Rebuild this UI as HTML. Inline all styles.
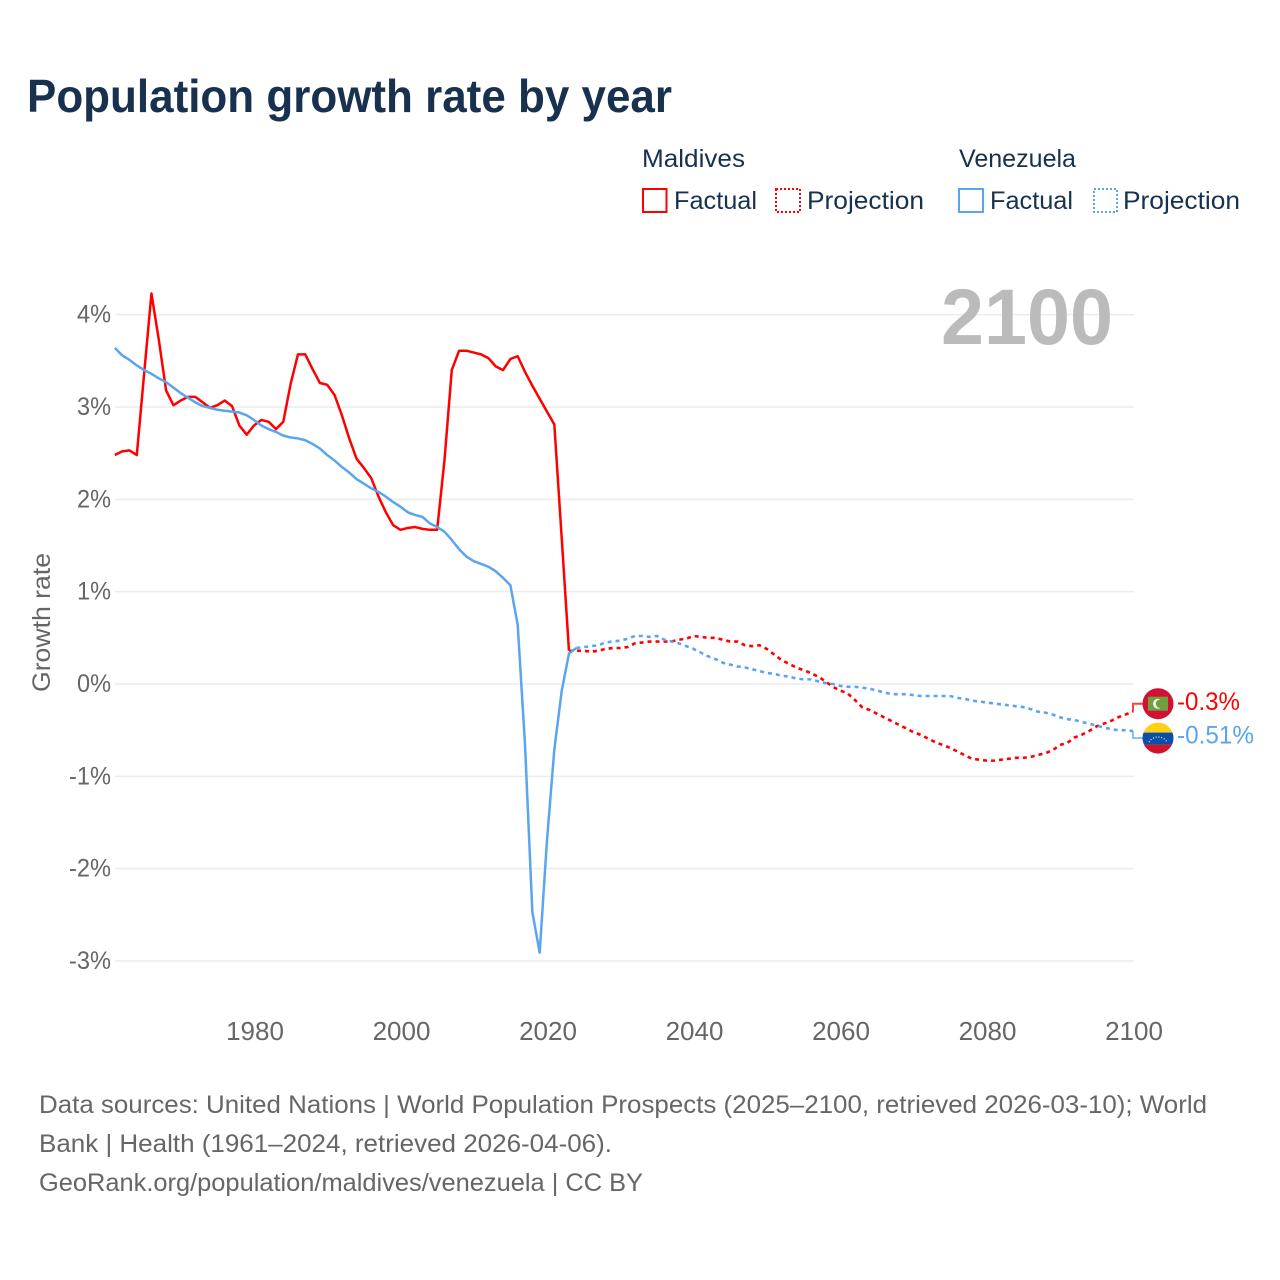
<!DOCTYPE html>
<html lang="en">
<head>
<meta charset="utf-8">
<title>Population growth rate by year</title>
<style>
html,body{margin:0;padding:0;background:#fff;}
svg{display:block;font-family:"Liberation Sans",sans-serif;}
</style>
</head>
<body>
<svg id="chart" xmlns="http://www.w3.org/2000/svg" width="1280" height="1280" viewBox="0 0 1280 1280">
  <rect x="0" y="0" width="1280" height="1280" fill="#ffffff"/>
  <text x="27" y="112" font-size="46" font-weight="700" fill="#17314f" textLength="645" lengthAdjust="spacingAndGlyphs">Population growth rate by year</text>

  <g font-size="25" fill="#17314f">
    <text x="642" y="167" textLength="103" lengthAdjust="spacingAndGlyphs">Maldives</text>
    <rect x="643" y="189" width="23.500" height="23" fill="none" stroke="#ff0000" stroke-width="2"/>
    <text x="674" y="209" textLength="83" lengthAdjust="spacingAndGlyphs">Factual</text>
    <rect x="776" y="189" width="24" height="23" fill="none" stroke="#ff0000" stroke-width="2" stroke-dasharray="2 2"/>
    <text x="807" y="209" textLength="117" lengthAdjust="spacingAndGlyphs">Projection</text>

    <text x="959" y="167" textLength="117" lengthAdjust="spacingAndGlyphs">Venezuela</text>
    <rect x="959" y="189" width="24" height="23" fill="none" stroke="#5aa5ee" stroke-width="2"/>
    <text x="990" y="209" textLength="83" lengthAdjust="spacingAndGlyphs">Factual</text>
    <rect x="1094" y="189" width="23" height="23" fill="none" stroke="#5aa5ee" stroke-width="2" stroke-dasharray="2 2"/>
    <text x="1123" y="209" textLength="117" lengthAdjust="spacingAndGlyphs">Projection</text>
  </g>

  <g id="grid"></g>
  <g id="yticks"></g>
  <g id="xticks"></g>
  <text transform="translate(50,692) rotate(-90)" font-size="25" fill="#666666" textLength="139" lengthAdjust="spacingAndGlyphs">Growth rate</text>
  <text x="941" y="344" font-size="79" font-weight="700" fill="#bbbbbb" textLength="172" lengthAdjust="spacingAndGlyphs">2100</text>

  <g id="series"></g>

  <defs>
    <clipPath id="flag-clip"><circle cx="0" cy="0" r="15.500"/></clipPath>
  </defs>
  <g id="flag-maldives">
    <g clip-path="url(#flag-clip)">
      <rect x="-16" y="-16" width="32" height="32" fill="#d21034"/>
      <rect x="-10" y="-7" width="20" height="14" fill="#6f9f3f"/>
      <circle cx="0" cy="0" r="5" fill="#f0f3e8"/>
      <circle cx="2.200" cy="0" r="4.300" fill="#6f9f3f"/>
    </g>
  </g>
  <g id="flag-venezuela">
    <g clip-path="url(#flag-clip)">
      <rect x="-16" y="-16" width="32" height="10.500" fill="#fcd116"/>
      <rect x="-16" y="-5.500" width="32" height="12" fill="#0a50a8"/>
      <rect x="-16" y="6.500" width="32" height="10" fill="#cf142b"/>
      <path d="M-9 4 A10 9 0 0 1 9 4" fill="none" stroke="#ffffff" stroke-width="1.100" stroke-dasharray="1 1.800"/>
    </g>
  </g>
  <text id="label-maldives" x="1177" font-size="25" fill="#ff0000" textLength="63" lengthAdjust="spacingAndGlyphs"></text>
  <text id="label-venezuela" x="1177" font-size="25" fill="#5aa5ee" textLength="77" lengthAdjust="spacingAndGlyphs"></text>

  <g font-size="25" fill="#666666">
    <text x="39" y="1113" textLength="1168" lengthAdjust="spacingAndGlyphs">Data sources: United Nations | World Population Prospects (2025–2100, retrieved 2026-03-10); World</text>
    <text x="39" y="1152" textLength="573" lengthAdjust="spacingAndGlyphs">Bank | Health (1961–2024, retrieved 2026-04-06).</text>
    <text x="39" y="1191" textLength="604" lengthAdjust="spacingAndGlyphs">GeoRank.org/population/maldives/venezuela | CC BY</text>
  </g>
</svg>

<script>
const factualStartYear = 1961;
const maldivesFactual = [2.48,2.52,2.53,2.48,3.36,4.23,3.73,3.18,3.02,3.07,3.11,3.11,3.05,2.99,3.02,3.07,3.01,2.80,2.70,2.80,2.86,2.84,2.76,2.84,3.25,3.57,3.57,3.41,3.26,3.24,3.13,2.91,2.66,2.44,2.34,2.23,2.03,1.86,1.72,1.67,1.69,1.70,1.68,1.67,1.67,2.42,3.40,3.61,3.61,3.59,3.57,3.53,3.44,3.40,3.52,3.55,3.38,3.23,3.09,2.95,2.81,1.59,0.36];
const venezuelaFactual = [3.64,3.56,3.51,3.45,3.40,3.36,3.31,3.27,3.21,3.15,3.10,3.05,3.01,2.99,2.97,2.96,2.95,2.94,2.91,2.86,2.80,2.76,2.73,2.69,2.67,2.66,2.64,2.60,2.55,2.48,2.42,2.35,2.29,2.22,2.17,2.12,2.08,2.03,1.97,1.92,1.86,1.83,1.81,1.74,1.70,1.65,1.56,1.46,1.38,1.33,1.30,1.27,1.22,1.15,1.07,0.64,-0.66,-2.47,-2.91,-1.69,-0.71,-0.08,0.33,0.39];
const maldivesProjectionStartYear = 2023;
const maldivesProjection = [0.36,0.36,0.36,0.35,0.36,0.38,0.39,0.39,0.40,0.44,0.45,0.46,0.46,0.46,0.46,0.48,0.49,0.52,0.51,0.50,0.50,0.48,0.46,0.46,0.42,0.41,0.42,0.38,0.32,0.26,0.22,0.18,0.15,0.12,0.08,0.03,-0.03,-0.07,-0.10,-0.17,-0.25,-0.28,-0.32,-0.36,-0.40,-0.44,-0.48,-0.52,-0.55,-0.59,-0.63,-0.66,-0.69,-0.73,-0.77,-0.81,-0.82,-0.83,-0.83,-0.82,-0.81,-0.80,-0.80,-0.79,-0.77,-0.75,-0.72,-0.66,-0.64,-0.58,-0.55,-0.51,-0.46,-0.43,-0.40,-0.36,-0.33,-0.30];
const venezuelaProjectionStartYear = 2024;
const venezuelaProjection = [0.39,0.40,0.41,0.42,0.45,0.46,0.47,0.49,0.52,0.52,0.51,0.52,0.48,0.46,0.44,0.41,0.38,0.34,0.30,0.27,0.23,0.21,0.19,0.18,0.16,0.14,0.12,0.11,0.09,0.08,0.06,0.05,0.05,0.03,0.01,0,-0.02,-0.03,-0.03,-0.04,-0.05,-0.07,-0.09,-0.11,-0.11,-0.11,-0.12,-0.13,-0.13,-0.13,-0.13,-0.13,-0.15,-0.16,-0.18,-0.19,-0.20,-0.21,-0.22,-0.23,-0.24,-0.25,-0.27,-0.30,-0.31,-0.33,-0.36,-0.38,-0.39,-0.41,-0.43,-0.45,-0.47,-0.49,-0.50,-0.50,-0.51];
const xTickYears = [1980,2000,2020,2040,2060,2080,2100];
const yTickValues = [4,3,2,1,0,-1,-2,-3];

const SVG_NS = 'http://www.w3.org/2000/svg';
function xTickScale(year){ return 255 + (year - 1980) * 7.325; }
function xScale(year){ return xTickScale(year) - 1; }
function yScale(value){ return 684 - value * 92.33; }
function make(tag, attrs, parent){
  const el = document.createElementNS(SVG_NS, tag);
  for (const k in attrs) el.setAttribute(k, attrs[k]);
  parent.appendChild(el);
  return el;
}
function pathFor(values, startYear){
  return values.map(function(v, i){
    return (i ? 'L' : 'M') + xScale(startYear + i).toFixed(2) + ' ' + yScale(v).toFixed(2);
  }).join(' ');
}

const gridGroup = document.getElementById('grid');
const yTickGroup = document.getElementById('yticks');
yTickValues.forEach(function(v){
  const line = make('line', {x1: 115, x2: xTickScale(2100), y1: yScale(v), y2: yScale(v), stroke: '#ececec', 'stroke-width': 1.5}, gridGroup);
  
  
  const text = v + '%';
  const label = make('text', {x: 111, y: yScale(v) + 8, 'text-anchor': 'end', 'font-size': 25, fill: '#666666', textLength: 18 + 8 * text.length, lengthAdjust: 'spacingAndGlyphs'}, yTickGroup);
  
  
  label.textContent = text;
});

const xTickGroup = document.getElementById('xticks');
xTickYears.forEach(function(year){
  const label = make('text', {x: xTickScale(year), y: 1040, 'text-anchor': 'middle', 'font-size': 26, fill: '#666666'}, xTickGroup);
  
  
  label.textContent = year;
});

const seriesGroup = document.getElementById('series');
const RED = '#ff0000';
const BLUE = '#5aa5ee';

const maldivesLine = make('path', {d: pathFor(maldivesFactual, factualStartYear), fill: 'none', stroke: RED, 'stroke-width': 2.5, 'stroke-linejoin': 'round'}, seriesGroup);



const maldivesDash = make('path', {d: pathFor(maldivesProjection, maldivesProjectionStartYear), fill: 'none', stroke: RED, 'stroke-width': 2.6, 'stroke-dasharray': '4 4'}, seriesGroup);



const venezuelaLine = make('path', {d: pathFor(venezuelaFactual, factualStartYear), fill: 'none', stroke: BLUE, 'stroke-width': 2.5, 'stroke-linejoin': 'round'}, seriesGroup);



const venezuelaDash = make('path', {d: pathFor(venezuelaProjection, venezuelaProjectionStartYear), fill: 'none', stroke: BLUE, 'stroke-width': 2.6, 'stroke-dasharray': '4 4'}, seriesGroup);



const mLast = maldivesProjection[maldivesProjection.length - 1];
const vLast = venezuelaProjection[venezuelaProjection.length - 1];
const mEndY = yScale(mLast);
const vEndY = yScale(vLast);
const mMarkY = mEndY - 8;
const vMarkY = vEndY + 7;
const endX = xScale(2100);

const maldivesConnector = make('path', {d: 'M' + endX + ' ' + mEndY + ' V' + mMarkY + ' H1143', fill: 'none', stroke: RED, 'stroke-opacity': 0.75, 'stroke-width': 2}, seriesGroup);



const venezuelaConnector = make('path', {d: 'M' + endX + ' ' + vEndY + ' V' + vMarkY + ' H1143', fill: 'none', stroke: BLUE, 'stroke-opacity': 0.85, 'stroke-width': 1.6}, seriesGroup);



document.getElementById('flag-maldives').setAttribute('transform', 'translate(1158,' + mMarkY + ')');
document.getElementById('flag-venezuela').setAttribute('transform', 'translate(1158,' + vMarkY + ')');
const mLabel = document.getElementById('label-maldives');
mLabel.setAttribute('y', mMarkY + 6.5);
mLabel.textContent = mLast + '%';
const vLabel = document.getElementById('label-venezuela');
vLabel.setAttribute('y', vMarkY + 5.5);
vLabel.textContent = vLast + '%';
</script>
</body>
</html>
